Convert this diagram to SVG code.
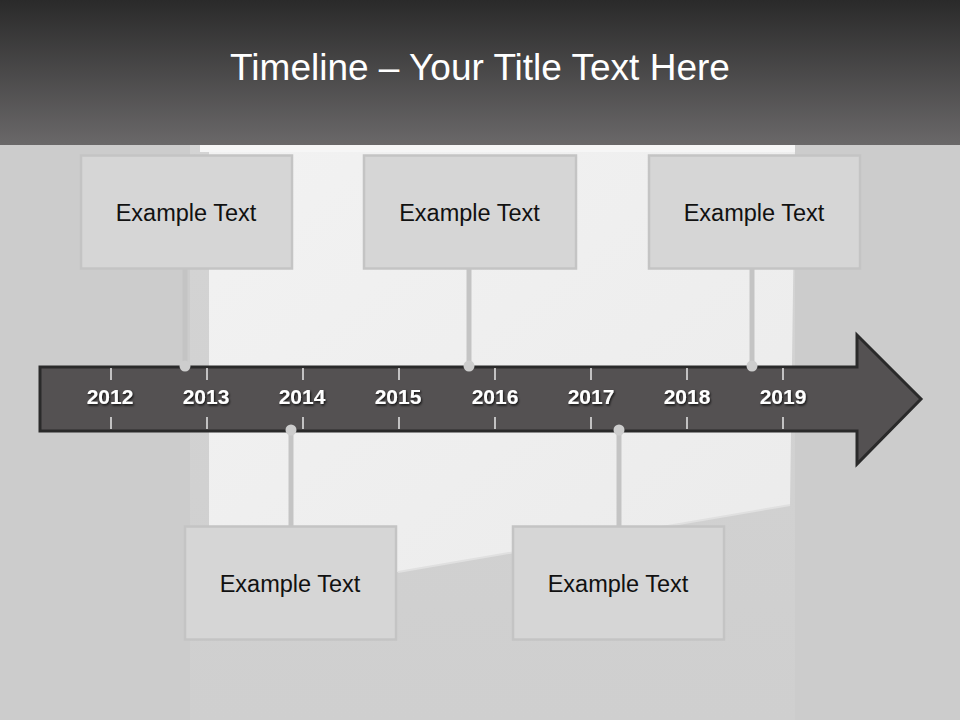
<svg xmlns="http://www.w3.org/2000/svg" width="960" height="720" viewBox="0 0 960 720">
  <defs>
    <linearGradient id="hdr" x1="0" y1="0" x2="0" y2="1">
      <stop offset="0" stop-color="#2a2a2a"/>
      <stop offset="1" stop-color="#6a6869"/>
    </linearGradient>
    <linearGradient id="panel" x1="0" y1="0" x2="0" y2="1">
      <stop offset="0" stop-color="#d4d4d4"/>
      <stop offset="1" stop-color="#cfcfcf"/>
    </linearGradient>
    <linearGradient id="win" x1="0" y1="0" x2="1" y2="1">
      <stop offset="0" stop-color="#f2f2f2"/>
      <stop offset="1" stop-color="#ebebeb"/>
    </linearGradient>
    <filter id="sh" x="-20%" y="-20%" width="140%" height="140%">
      <feDropShadow dx="1" dy="1.5" stdDeviation="0.8" flood-color="#000" flood-opacity="0.8"/>
    </filter>
  </defs>
  <style>
    .box { fill: #d6d6d6; stroke: #c4c4c4; stroke-width: 2.5; }
    .lbl { font-family: "Liberation Sans", Arial, sans-serif; font-size: 23.5px; fill: #111111; text-anchor: middle; }
    .yr { font-family: "Liberation Sans", Arial, sans-serif; font-size: 21px; font-weight: bold; fill: #ffffff; text-anchor: middle; }
    .conn { stroke: #c4c4c4; stroke-width: 5; fill: none; }
    .dot { fill: #cdcdcd; }
    .tick { stroke: #ffffff; stroke-width: 1.3; }
  </style>

  <!-- background -->
  <rect x="0" y="0" width="960" height="720" fill="#cccccc"/>
  <rect x="190" y="145" width="605" height="575" fill="url(#panel)"/>
  <polygon points="209,148 795,148 790,505 398,572 209,605" fill="url(#win)"/>
  <line x1="398" y1="572" x2="790" y2="505" stroke="#e0e0e0" stroke-width="2"/>
  <rect x="200" y="145" width="595" height="7" fill="#f6f6f6"/>

  <!-- header -->
  <rect x="0" y="0" width="960" height="145" fill="url(#hdr)"/>
  <text x="480" y="80" font-family="Liberation Sans, Arial, sans-serif" font-size="37" fill="#ffffff" text-anchor="middle">Timeline – Your Title Text Here</text>

  <!-- timeline arrow -->
  <g id="arrow">
    <polygon points="40,367 857,367 857,335 921,399 857,464 857,431 40,431" fill="#545152" stroke="#2a2a2a" stroke-width="3" stroke-linejoin="miter"/>
    <g class="tick">
      <line x1="111" y1="368" x2="111" y2="380"/><line x1="111" y1="417" x2="111" y2="429"/>
      <line x1="207" y1="368" x2="207" y2="380"/><line x1="207" y1="417" x2="207" y2="429"/>
      <line x1="303" y1="368" x2="303" y2="380"/><line x1="303" y1="417" x2="303" y2="429"/>
      <line x1="399" y1="368" x2="399" y2="380"/><line x1="399" y1="417" x2="399" y2="429"/>
      <line x1="495" y1="368" x2="495" y2="380"/><line x1="495" y1="417" x2="495" y2="429"/>
      <line x1="591" y1="368" x2="591" y2="380"/><line x1="591" y1="417" x2="591" y2="429"/>
      <line x1="687" y1="368" x2="687" y2="380"/><line x1="687" y1="417" x2="687" y2="429"/>
      <line x1="783" y1="368" x2="783" y2="380"/><line x1="783" y1="417" x2="783" y2="429"/>
    </g>
    <g filter="url(#sh)">
      <text class="yr" x="110" y="404">2012</text>
      <text class="yr" x="206" y="404">2013</text>
      <text class="yr" x="302" y="404">2014</text>
      <text class="yr" x="398" y="404">2015</text>
      <text class="yr" x="495" y="404">2016</text>
      <text class="yr" x="591" y="404">2017</text>
      <text class="yr" x="687" y="404">2018</text>
      <text class="yr" x="783" y="404">2019</text>
    </g>
  </g>

  <!-- connectors -->
  <g id="connectors">
    <line class="conn" x1="185" y1="269" x2="185" y2="366"/>
    <circle class="dot" cx="185" cy="366" r="5.5"/>
    <line class="conn" x1="469" y1="269" x2="469" y2="366"/>
    <circle class="dot" cx="469" cy="366" r="5.5"/>
    <line class="conn" x1="752" y1="269" x2="752" y2="366"/>
    <circle class="dot" cx="752" cy="366" r="5.5"/>
    <line class="conn" x1="291" y1="430" x2="291" y2="526"/>
    <circle class="dot" cx="291" cy="430" r="5.5"/>
    <line class="conn" x1="619" y1="430" x2="619" y2="526"/>
    <circle class="dot" cx="619" cy="430" r="5.5"/>
  </g>

  <!-- nodes -->
  <g id="node1">
    <rect class="box" x="81" y="155.5" width="211" height="113"/>
    <text class="lbl" x="186" y="221">Example Text</text>
  </g>
  <g id="node2">
    <rect class="box" x="364" y="155.5" width="212" height="113"/>
    <text class="lbl" x="469.5" y="221">Example Text</text>
  </g>
  <g id="node3">
    <rect class="box" x="649" y="155.5" width="211" height="113"/>
    <text class="lbl" x="754" y="221">Example Text</text>
  </g>
  <g id="node4">
    <rect class="box" x="185" y="526.5" width="211" height="113"/>
    <text class="lbl" x="290" y="592">Example Text</text>
  </g>
  <g id="node5">
    <rect class="box" x="513" y="526.5" width="211" height="113"/>
    <text class="lbl" x="618" y="592">Example Text</text>
  </g>
</svg>
